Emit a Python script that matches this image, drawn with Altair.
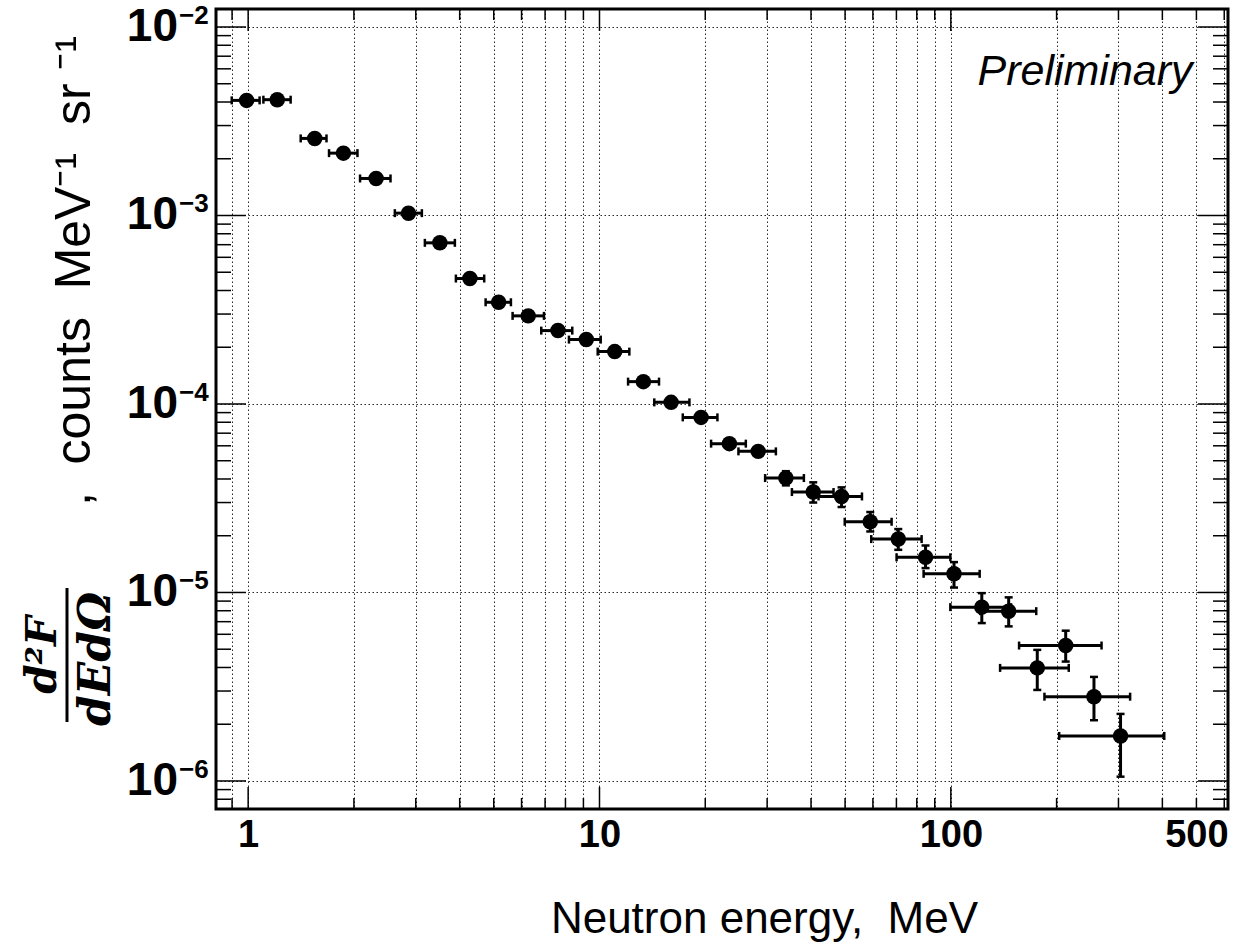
import altair as alt
import pandas as pd

# ---------------- data ----------------
energy = [0.99, 1.21, 1.547, 1.867, 2.313, 2.860, 3.513, 4.277, 5.163, 6.268,
          7.618, 9.172, 11.05, 13.33, 15.99, 19.46, 23.43, 28.29, 33.92, 40.58,
          48.86, 58.97, 70.86, 84.73, 102.1, 122.5, 146.1, 176.2, 212.3, 255.5, 304.1]
energy_lo = [0.898, 1.105, 1.411, 1.699, 2.082, 2.615, 3.184, 3.902, 4.741, 5.658,
             6.828, 8.186, 9.883, 12.06, 14.32, 17.26, 20.78, 24.86, 29.61, 35.29,
             42.02, 49.89, 59.35, 70.08, 83.66, 99.68, 121.3, 138.1, 156.4, 184.7, 203.4]
energy_hi = [1.078, 1.321, 1.671, 2.047, 2.542, 3.122, 3.876, 4.697, 5.596, 6.949,
             8.366, 10.08, 12.16, 14.77, 18.03, 21.66, 26.09, 31.77, 38.17, 46.36,
             55.85, 67.83, 82.57, 99.68, 120.8, 148.4, 175.0, 216.6, 268.5, 323.8, 405.0]
flux = [4.08e-3, 4.115e-3, 2.564e-3, 2.142e-3, 1.572e-3, 1.029e-3, 7.16e-4, 4.63e-4,
        3.464e-4, 2.934e-4, 2.451e-4, 2.196e-4, 1.896e-4, 1.314e-4, 1.020e-4, 8.49e-5,
        6.16e-5, 5.605e-5, 4.046e-5, 3.41e-5, 3.232e-5, 2.372e-5, 1.920e-5, 1.537e-5,
        1.256e-5, 8.36e-6, 7.96e-6, 3.98e-6, 5.23e-6, 2.80e-6, 1.733e-6]
flux_lo = [3.96e-3, 3.99e-3, 2.49e-3, 2.08e-3, 1.525e-3, 9.98e-4, 6.95e-4, 4.49e-4,
           3.36e-4, 2.85e-4, 2.38e-4, 2.13e-4, 1.84e-4, 1.27e-4, 9.85e-5, 8.15e-5,
           5.9e-5, 5.3e-5, 3.7e-5, 3.0e-5, 2.84e-5, 2.107e-5, 1.684e-5, 1.347e-5,
           1.062e-5, 6.88e-6, 6.61e-6, 3.04e-6, 4.30e-6, 2.10e-6, 1.054e-6]
flux_hi = [4.20e-3, 4.24e-3, 2.64e-3, 2.21e-3, 1.62e-3, 1.06e-3, 7.37e-4, 4.77e-4,
           3.57e-4, 3.02e-4, 2.52e-4, 2.26e-4, 1.95e-4, 1.36e-4, 1.06e-4, 8.85e-5,
           6.45e-5, 5.9e-5, 4.4e-5, 3.84e-5, 3.61e-5, 2.672e-5, 2.170e-5, 1.775e-5,
           1.449e-5, 9.92e-6, 9.42e-6, 4.96e-6, 6.27e-6, 3.565e-6, 2.268e-6]

x_major = [1, 10, 100]
x_minor = [0.9, 2, 3, 4, 5, 6, 7, 8, 9, 20, 30, 40, 50, 60, 70, 80, 90,
           200, 300, 400, 500, 600]
x_labels = [1, 10, 100, 500]
y_major = [1e-2, 1e-3, 1e-4, 1e-5, 1e-6]
y_exponents = ["\u22122", "\u22123", "\u22124", "\u22125", "\u22126"]
y_minor = [k * 10.0 ** n for n in (-7, -6, -5, -4, -3) for k in range(2, 10)
           if 7.1e-7 < k * 10.0 ** n < 1e-2]

x_domain = [0.81, 615]
y_domain = [7.1e-7, 0.01246]

W, H = 1012, 800
SANS = "'Liberation Sans', Arial, sans-serif"
NB = "\u00a0"

xs = alt.Scale(type="log", domain=x_domain, nice=False)
ys = alt.Scale(type="log", domain=y_domain, nice=False)

df = pd.DataFrame({"E": energy, "Elo": energy_lo, "Ehi": energy_hi,
                   "F": flux, "Flo": flux_lo, "Fhi": flux_hi})

label_list = "[" + ",".join(str(v) for v in x_labels) + "]"
x_axis = alt.Axis(
    values=x_minor + x_major, grid=True, gridDash=[1.5, 2.5], gridColor="black",
    gridWidth=1, gridOpacity=0.85, ticks=False, domain=False,
    labelExpr=f"indexof({label_list}, datum.value) >= 0 ? format(datum.value, 'd') : ''",
    labelFont=SANS, labelFontSize=38, labelFontWeight="bold", labelColor="black",
    labelPadding=7, labelOverlap=False, labelFlush=False, labelBound=False,
    title="Neutron energy," + NB + NB + "MeV", titleFont=SANS, titleFontSize=44,
    titleFontWeight="normal", titleColor="black", titleX=548, titleY=123,
    titleBaseline="alphabetic", titleAlign="center", titleAnchor="start")
y_axis = alt.Axis(values=y_major, grid=True, gridDash=[1.5, 2.5], gridColor="black",
                  gridWidth=1, gridOpacity=0.85, ticks=False, domain=False,
                  labels=False, title=None)


def X(field):
    return alt.X(field, type="quantitative", scale=xs, axis=x_axis)


def Y(field):
    return alt.Y(field, type="quantitative", scale=ys, axis=y_axis)


base = alt.Chart(df)

x_err = base.mark_rule(color="black", strokeWidth=3).encode(x=X("Elo"), x2="Ehi", y=Y("F"))
y_err = base.mark_rule(color="black", strokeWidth=3).encode(x=X("E"), y=Y("Flo"), y2="Fhi")
tick_kw = dict(size=8, thickness=2.5, color="black", opacity=1)
cap_l = base.mark_tick(orient="vertical", **tick_kw).encode(x=X("Elo"), y=Y("F"))
cap_r = base.mark_tick(orient="vertical", **tick_kw).encode(x=X("Ehi"), y=Y("F"))
cap_b = base.mark_tick(orient="horizontal", **tick_kw).encode(x=X("E"), y=Y("Flo"))
cap_t = base.mark_tick(orient="horizontal", **tick_kw).encode(x=X("E"), y=Y("Fhi"))
points = base.mark_circle(size=240, color="black", opacity=1).encode(x=X("E"), y=Y("F"))


# ROOT-style inward ticks on all four sides
def xticks(values, length):
    d = alt.Chart(pd.DataFrame({"v": values}))
    bot = d.mark_rule(color="black", strokeWidth=1.5).encode(
        x=X("v"), y=alt.value(H), y2=alt.value(H - length))
    top = d.mark_rule(color="black", strokeWidth=1.5).encode(
        x=X("v"), y=alt.value(0), y2=alt.value(length))
    return [bot, top]


def yticks(values, length):
    d = alt.Chart(pd.DataFrame({"v": values}))
    left = d.mark_rule(color="black", strokeWidth=1.5).encode(
        y=Y("v"), x=alt.value(0), x2=alt.value(length))
    right = d.mark_rule(color="black", strokeWidth=1.5).encode(
        y=Y("v"), x=alt.value(W), x2=alt.value(W - length))
    return [left, right]


tick_layers = xticks(x_major, 22) + xticks(x_minor, 11) + yticks(y_major, 30) + yticks(y_minor, 15)

# y tick labels 10^n
ylab_df = pd.DataFrame({"v": y_major, "exp": y_exponents})
ylab_base = alt.Chart(ylab_df).mark_text(
    align="right", baseline="middle", font=SANS, fontSize=46, fontWeight="bold", color="black"
).encode(x=alt.value(-38), y=Y("v"), text=alt.value("10"))
ylab_exp = alt.Chart(ylab_df).mark_text(
    align="left", baseline="middle", font=SANS, fontSize=26, fontWeight="bold", color="black", dy=-11
).encode(x=alt.value(-37), y=Y("v"), text="exp:N")

# y-axis title pieces
one = pd.DataFrame({"t": [0]})
ytitle_str = "," + NB + NB + "counts" + NB + NB + "MeV\u207b\u00b9" + NB + NB + "sr" + NB + "\u207b\u00b9"
ytitle_text = alt.Chart(one).mark_text(
    angle=270, align="center", baseline="middle", font=SANS, fontSize=50, color="black"
).encode(x=alt.value(-141), y=alt.value(262), text=alt.value(ytitle_str))
serif = "'DejaVu Serif', serif"
num = alt.Chart(one).mark_text(
    angle=270, align="center", baseline="middle", font=serif,
    fontSize=42, fontStyle="italic", fontWeight="bold", color="black"
).encode(x=alt.value(-173), y=alt.value(646), text=alt.value("d\u00b2F"))
den = alt.Chart(one).mark_text(
    angle=270, align="center", baseline="middle", font=serif,
    fontSize=44, fontStyle="italic", fontWeight="bold", color="black"
).encode(x=alt.value(-119), y=alt.value(650), text=alt.value("dEd\u03a9"))
bar = alt.Chart(one).mark_rule(color="black", strokeWidth=3).encode(
    x=alt.value(-149), y=alt.value(579), y2=alt.value(713))

prelim = alt.Chart(one).mark_text(
    align="center", baseline="middle", font=SANS, fontSize=43, fontStyle="italic", color="black"
).encode(x=alt.value(869), y=alt.value(63), text=alt.value("Preliminary"))

chart = alt.layer(
    x_err, *tick_layers, y_err, cap_l, cap_r, cap_b, cap_t, points,
    ylab_base, ylab_exp, ytitle_text, num, den, bar, prelim
).properties(
    width=W, height=H,
    autosize=alt.AutoSizeParams(type="none"),
    padding={"left": 216, "top": 9, "right": 17, "bottom": 138},
    background="white",
).configure_view(stroke="black", strokeWidth=3)

chart.save("out.html", embed_options={"renderer": "svg", "actions": False})
